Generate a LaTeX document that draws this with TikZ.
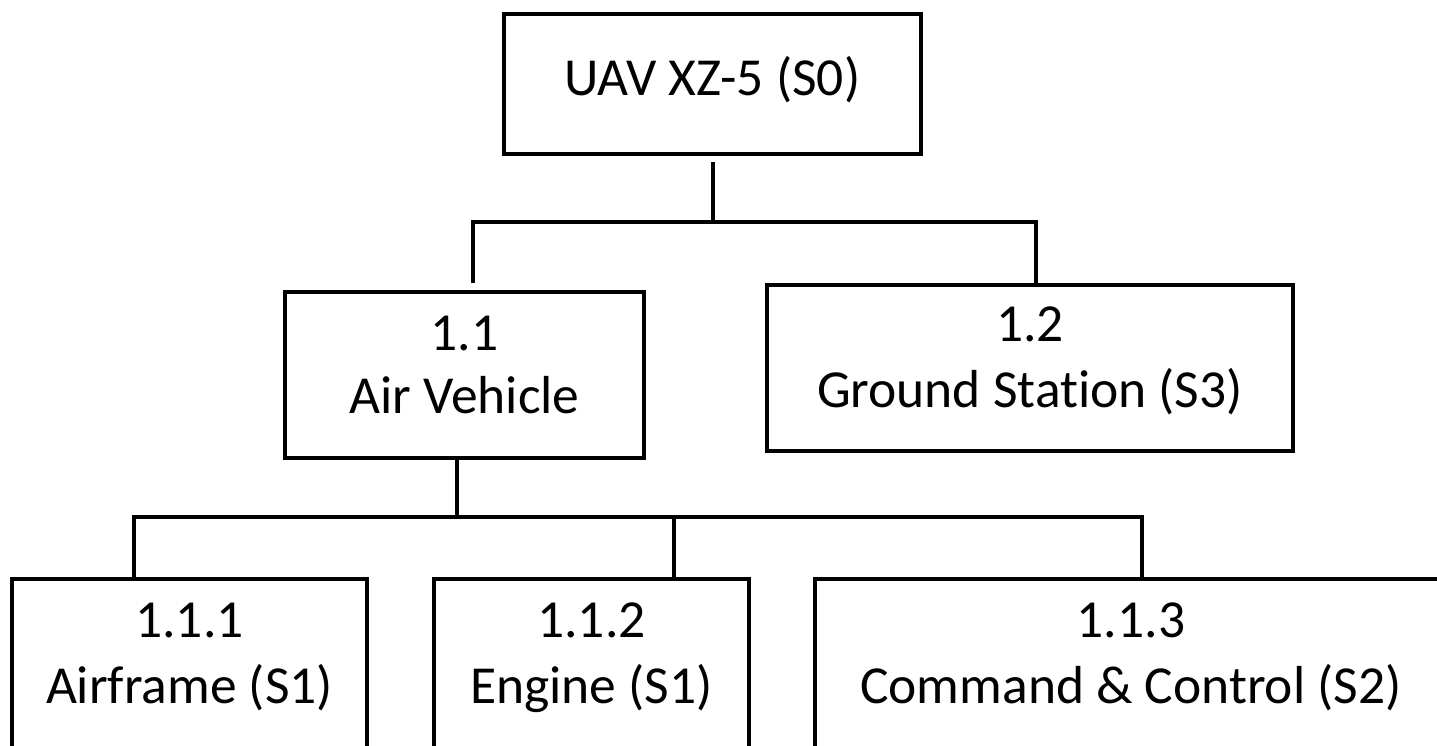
\documentclass[tikz,border=0pt]{standalone}
\usepackage{fontspec}
\setmainfont{Carlito}[Ligatures=NoCommon]
\newcommand\twostrut{\rule[-25pt]{0pt}{63pt}}
\newcommand\onestrut{\rule[-20pt]{0pt}{62pt}}
\begin{document}
\begin{tikzpicture}[x=1pt,y=-1pt,
  boxst/.style={draw=black, line width=4pt, inner sep=0pt, align=center,
    font=\fontsize{53.5pt}{63pt}\selectfont},
  conn/.style={draw=black, line width=4pt}]
\useasboundingbox (0,0) rectangle (1437,745);
\clip (0,0) rectangle (1437,745);
\fill[white] (0,0) rectangle (1437,745);
% boxes
\node[boxst, minimum width=417pt, minimum height=140pt] (s0) at (712.5,84) {\onestrut UAV XZ-5 (S0)};
\node[boxst, minimum width=359pt, minimum height=166pt] (b11) at (464.5,375) {\twostrut 1.1\\\twostrut Air Vehicle};
\node[boxst, minimum width=526pt, minimum height=166pt] (b12) at (1030,368) {\twostrut 1.2\\\twostrut Ground Station (S3)};
\node[boxst, minimum width=355pt, minimum height=170pt] (b111) at (189.5,664) {\twostrut 1.1.1\\\twostrut Airframe (S1)};
\node[boxst, minimum width=315pt, minimum height=170pt] (b112) at (591.5,664) {\twostrut 1.1.2\\\twostrut Engine (S1)};
\node[boxst, minimum width=632pt, minimum height=170pt] (b113) at (1131,664) {\twostrut 1.1.3\\\twostrut Command \& Control (S2)};
% bus points
\coordinate (aL) at (473,222);
\coordinate (aR) at (1036,222);
\coordinate (bB) at (457,517);
\coordinate (bL) at (134,517);
\coordinate (bM) at (674,517);
\coordinate (bR) at (1142,517);
% connectors
\draw[conn, shorten <=6pt] (s0.south) -- (s0.south |- aL);
\draw[conn, shorten <=7pt] (aL |- b11.north) -- (aL) -- (aR) -- (aR |- b12.north);
\draw[conn] (b11.south -| bB) -- (bB);
\draw[conn] (bL |- b111.north) -- (bL) -- (bR) -- (bR |- b113.north);
\draw[conn] (bM) -- (bM |- b112.north);
\end{tikzpicture}
\end{document}
